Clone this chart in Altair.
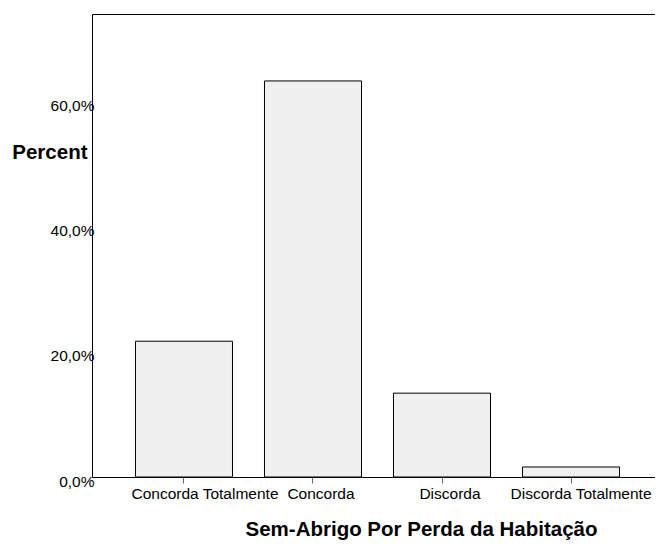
import altair as alt
import pandas as pd

categories = ["Concorda Totalmente", "Concorda", "Discorda", "Discorda Totalmente"]
percents = [21.7, 63.3, 13.4, 1.6]
y_ticks = [0, 20, 40, 60]

df = pd.DataFrame({"cat": categories, "pct": percents})

FONT = "Liberation Sans"

x_bottom = alt.X(
    "cat:N",
    sort=categories,
    scale=alt.Scale(paddingInner=0.248, paddingOuter=0.337),
    axis=alt.Axis(
        title="Sem-Abrigo Por Perda da Habitação",
        titleFont=FONT, titleFontSize=20.5, titleFontWeight="bold", titleColor="black",
        titleX=329, titleY=58, titleAnchor="middle", titleAlign="center",
        titleBaseline="alphabetic",
        labelFont=FONT, labelFontSize=15.5, labelColor="black", labelAngle=0,
        labelPadding=3,
        labelOffset={"condition": [
            {"test": "datum.value == 'Concorda Totalmente'", "value": 21},
            {"test": "datum.value == 'Discorda Totalmente'", "value": 10}],
            "value": 8},
        tickSize=6, tickColor="#666666", tickWidth=1,
        domainColor="black", domainWidth=1, grid=False,
    ),
)

y_axis = alt.Y(
    "pct:Q",
    scale=alt.Scale(domain=[0, 74], nice=False),
    axis=alt.Axis(
        values=y_ticks,
        labelExpr="replace(format(datum.value, '.1f'), '.', ',') + '%'",
        title="Percent",
        titleFont=FONT, titleFontSize=20.5, titleFontWeight="bold", titleColor="black",
        titleAngle=0, titleAlign="right", titleBaseline="middle",
        titleX=-5, titleY=138,
        labelFont=FONT, labelFontSize=15.5, labelColor="black",
        labelPadding=-2, labelOffset=4, labelBaseline="middle",
        ticks=False, domainColor="black", domainWidth=1, grid=False,
    ),
)

bars = alt.Chart(df).mark_bar(
    fill="#f0f0f0", stroke="black", strokeWidth=1
).encode(x=x_bottom, y=y_axis)

top_frame = alt.Chart(df).mark_bar(opacity=0).encode(
    x=alt.X(
        "cat:N", sort=categories,
        axis=alt.Axis(orient="top", labels=False, ticks=False, title=None,
                      domainColor="black", domainWidth=1, grid=False),
    ),
    y=alt.Y("pct:Q"),
)

chart = (
    alt.layer(bars, top_frame)
    .resolve_axis(x="independent")
    .properties(
        width=571, height=463,
        autosize=alt.AutoSizeParams(type="none"),
        padding={"left": 84, "top": 6, "right": -8, "bottom": 63},
        background="white",
    )
    .configure_view(stroke=None)
)

chart.save("out.html", embed_options={"renderer": "svg", "actions": False})
